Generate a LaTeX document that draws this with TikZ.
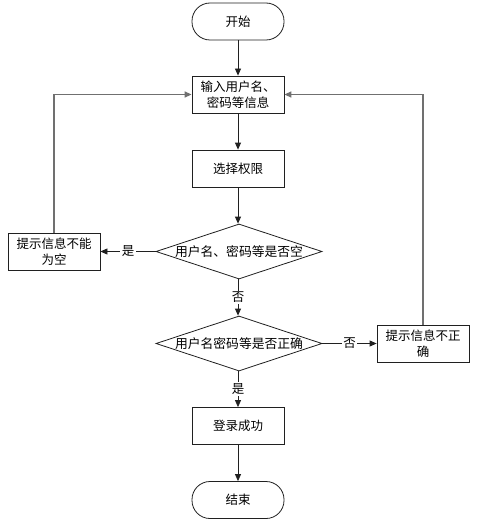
\documentclass[tikz,border=0pt]{standalone}
\usepackage{fontspec}
\setmainfont{Noto Sans CJK SC}
\usepackage{tikz}
\usetikzlibrary{positioning, arrows.meta, shapes.geometric}
\definecolor{lineblack}{HTML}{202020}
\definecolor{loopgray}{HTML}{707070}

\tikzset{
  terminal/.style={draw=lineblack, line width=0.8pt, rounded corners=18pt,
                   minimum width=92pt, minimum height=37pt, font=\fontsize{12.5}{14}\selectfont},
  procbox/.style={draw=lineblack, line width=0.8pt, minimum width=92pt,
                  minimum height=37pt, align=center, font=\fontsize{12.5}{15.5}\selectfont},
  decision/.style={draw=lineblack, line width=0.8pt, diamond, aspect=3,
                   inner sep=0pt, minimum width=166pt, minimum height=55pt,
                   font=\fontsize{12.8}{14}\selectfont},
  arr/.style={-{Triangle[length=7pt, width=6pt]}, draw=lineblack, line width=0.8pt},
  looparr/.style={-{Triangle[length=7pt, width=6pt]}, draw=loopgray, line width=1.3pt},
  tag/.style={fill=white, inner sep=1.5pt, font=\fontsize{12.5}{14}\selectfont}
}

\begin{document}
\begin{tikzpicture}[x=1pt, y=-1pt]
    \useasboundingbox (0,0) rectangle (480,524);
    % main column
    \node[terminal] (start) at (238,21.5) {开始};
    \node[procbox] (input) at (238,94.5) {输入用户名、\\密码等信息};
    \node[procbox] (role) at (238,168.5) {选择权限};
    \node[decision] (chkempty) at (239,251.5) {用户名、密码等是否空};
    \node[decision] (chkright) at (239,343.5) {用户名密码等是否正确};
    \node[procbox] (success) at (238,426) {登录成功};
    \node[terminal] (stop) at (238,500) {结束};
    % side boxes
    \node[procbox] (warnempty) at (54,251.5) {提示信息不能\\为空};
    \node[procbox] (warnwrong) at (423,343.5) {提示信息不正\\确};

    \draw[arr] (start) -- (input);
    \draw[arr] (input) -- (role);
    \draw[arr] (role.south) -- (role.south |- chkempty.north);
    \draw[arr] (chkempty.south -| role.south) -- node[tag] {否} (role.south |- chkright.north);
    \draw[arr] (chkright.south -| role.south) -- node[tag] {是} (success);
    \draw[arr] (success) -- (stop);
    \draw[arr] (chkempty) -- node[tag] {是} (warnempty);
    \draw[arr] (chkright) -- node[tag] {否} (warnwrong);

    % back to input
    \draw[looparr] (warnempty.north) |- (input.west);
    \draw[looparr] (warnwrong.north) |- (input.east);
\end{tikzpicture}
\end{document}
